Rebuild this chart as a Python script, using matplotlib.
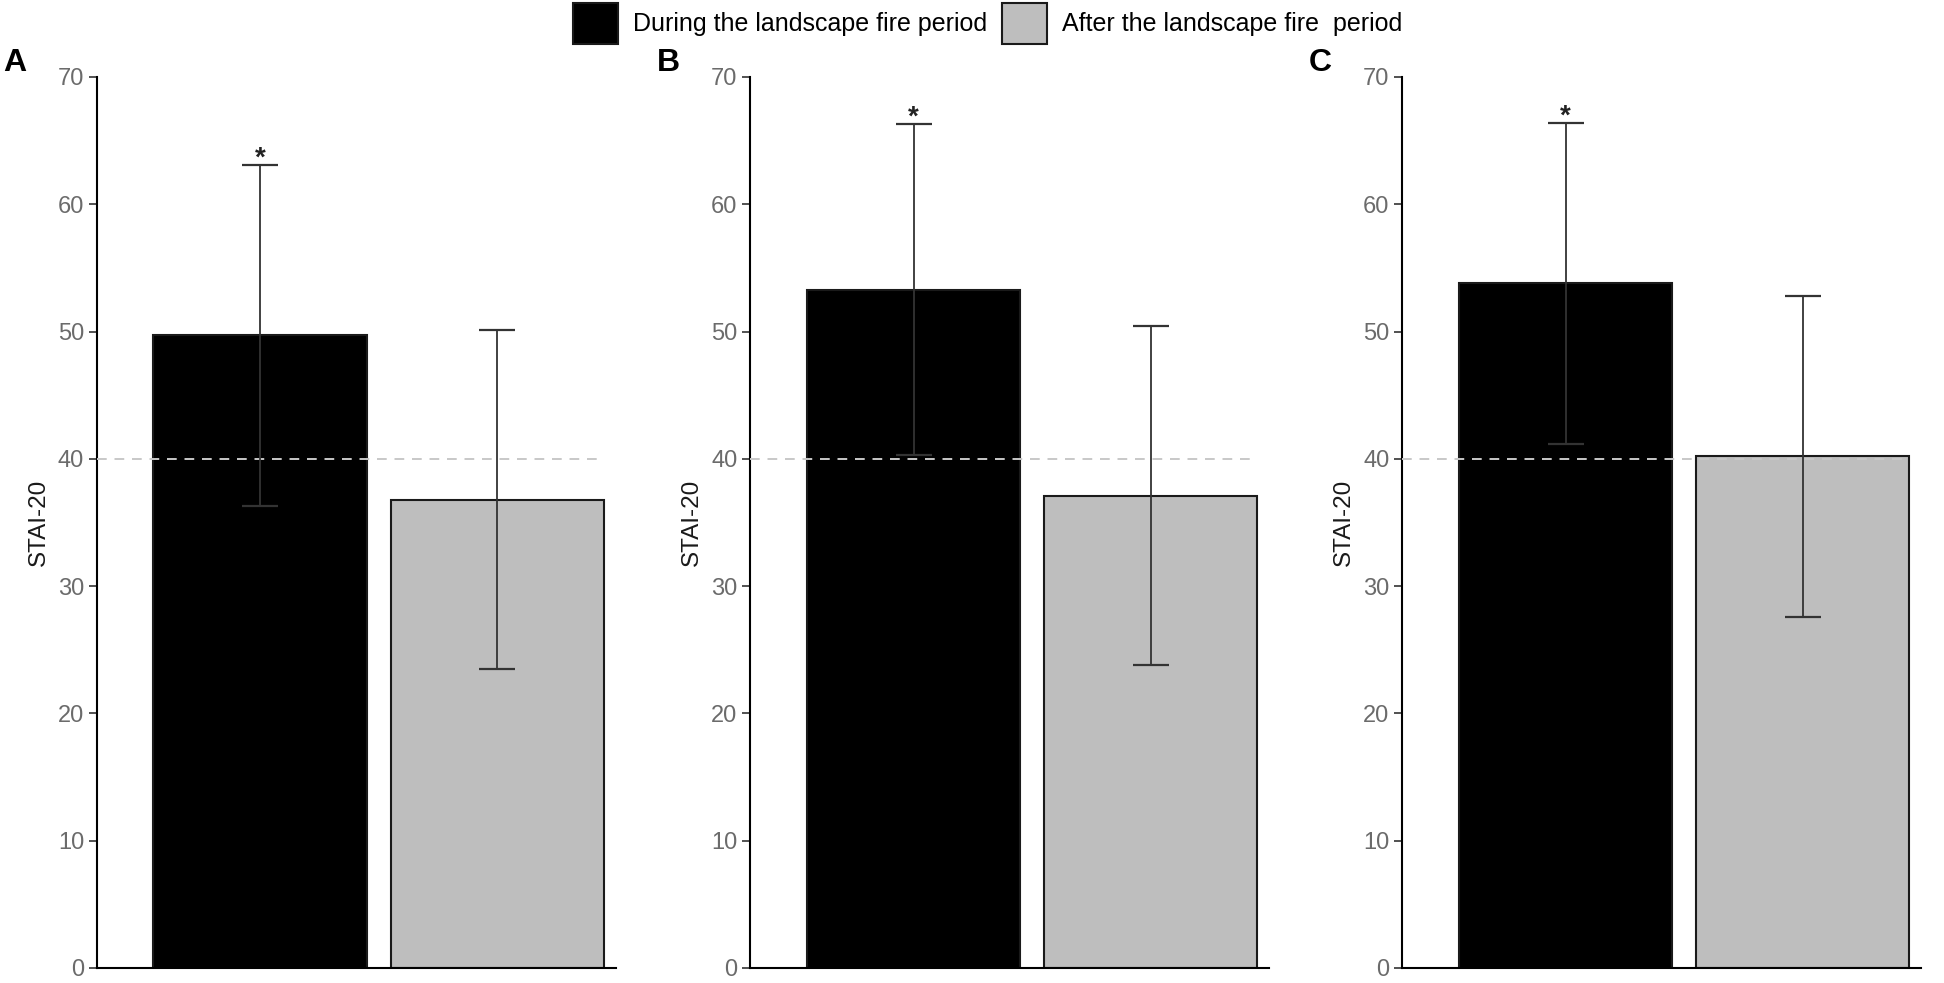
import numpy as np
import matplotlib.pyplot as plt
from matplotlib.patches import Patch

plt.rcParams['font.family'] = ['Liberation Sans', 'DejaVu Sans']

# data (mean, sd) for each panel
panels = ['A', 'B', 'C']
during_mean = [49.7, 53.3, 53.8]
during_sd = [13.4, 13.0, 12.6]
after_mean = [36.8, 37.1, 40.2]
after_sd = [13.35, 13.3, 12.6]
signif = [True, True, True]
cutoff = 40
yticks = [0, 10, 20, 30, 40, 50, 60, 70]
legend_labels = ['During the landscape fire period', 'After the landscape fire  period']
colors = ['#000000', '#BEBEBE']

fig = plt.figure(figsize=(19.44, 9.83), dpi=100)
lefts = [0.0497, 0.3858, 0.7212]
x = np.array([1, 2])

for i, p in enumerate(panels):
    ax = fig.add_axes([lefts[i], 0.0153, 0.267, 0.9064])
    means = [during_mean[i], after_mean[i]]
    sds = [during_sd[i], after_sd[i]]
    ax.bar(x, means, width=0.9, color=colors, edgecolor='#1a1a1a', linewidth=1.5, zorder=2)
    ax.hlines(cutoff, 0.31, 2.45, colors='#C8C8C8', linestyles=(0, (5, 4)), linewidth=1.4, zorder=3)
    ax.errorbar(x, means, yerr=sds, fmt='none', ecolor='#333333', elinewidth=1.3,
                capsize=13, capthick=1.6, zorder=4)
    if signif[i]:
        ax.text(1, means[0] + sds[0] - 0.5, '*', ha='center', va='bottom',
                fontsize=20, fontweight='bold', color='#222222')
    ax.set_xlim(0.31, 2.5)
    ax.set_ylim(0, 70)
    ax.set_yticks(yticks)
    ax.set_xticks([])
    ax.spines['top'].set_visible(False)
    ax.spines['right'].set_visible(False)
    ax.spines['left'].set_linewidth(1.5)
    ax.spines['bottom'].set_linewidth(1.5)
    ax.tick_params(axis='y', length=6, width=1.2, color='#333333',
                   labelsize=17, labelcolor='#6b6b6b', pad=3)
    ax.set_ylabel('STAI-20', fontsize=17.5, color='#1a1a1a', labelpad=6)
    fig.text(lefts[i] - 0.048, 0.936, p, fontsize=23, fontweight='bold', ha='left', va='center')

handles = [Patch(facecolor=colors[0], edgecolor='#1a1a1a', linewidth=1.5),
           Patch(facecolor=colors[1], edgecolor='#1a1a1a', linewidth=1.5)]
fig.legend(handles, legend_labels, loc='upper center', bbox_to_anchor=(0.508, 1.0),
           ncol=2, frameon=False, fontsize=18, handlelength=1.8, handleheight=2.2,
           columnspacing=0.6, handletextpad=0.6, borderaxespad=0.05, borderpad=0.05)

fig.savefig('out.png', dpi=100)
